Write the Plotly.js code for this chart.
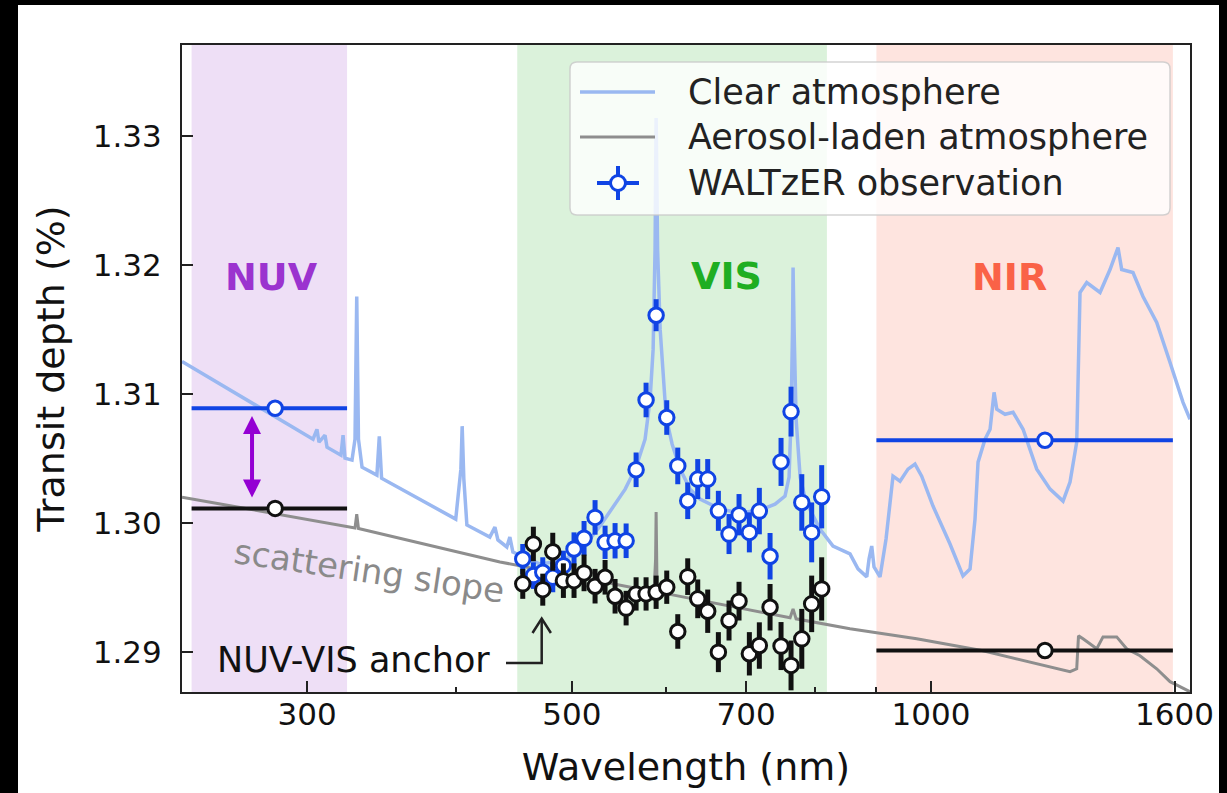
<!DOCTYPE html>
<html><head><meta charset="utf-8">
<script src="https://cdn.plot.ly/plotly-3.0.1.min.js"></script>
<style>
html,body{margin:0;padding:0;background:#000;width:1227px;height:793px;overflow:hidden}
#plot{position:absolute;left:18px;top:5px;width:1201px;height:788px;background:#fff}
</style></head><body><div id="plot"></div>
<script>
const FONT = 'DejaVu Sans, Liberation Sans, sans-serif';

// ---- model spectra (wavelength nm, transit depth %) ----
const clearWave = [235.6,258.5,279.2,303.4,305.7,306.9,310.5,311.7,320.2,321.5,322.7,327.1,329.0,330.1,331.2,333.5,343.2,344.8,346.3,399.6,403.6,404.6,405.9,408.3,426.8,431.0,433.5,441.0,443.6,446.2,470.2,488.7,503.0,517.9,528.0,540.3,554.2,566.0,575.9,581.5,584.9,587.1,588.3,590.0,592.9,599.8,606.8,616.2,628.1,640.3,665.6,691.8,718.9,740.1,754.5,760.4,763.3,765.5,766.3,767.8,770.8,776.8,785.8,807.2,827.7,855.3,868.6,883.4,887.3,891.9,895.9,906.3,916.9,929.3,942.0,956.6,969.6,982.2,1003.9,1037.4,1063.7,1078.3,1088.7,1095.1,1110.0,1120.8,1129.5,1135.4,1153.7,1171.7,1194.5,1226.5,1258.4,1290.3,1307.8,1324.8,1333.3,1350.7,1385.8,1412.8,1434.7,1445.0,1476.8,1505.6,1546.0,1586.3,1626.5,1648.6];
const clearDepth = [1.31255,1.31032,1.30849,1.30652,1.30729,1.30629,1.30683,1.30590,1.30528,1.30683,1.30505,1.30490,1.30652,1.31758,1.30652,1.30435,1.30374,1.30675,1.30350,1.30033,1.30420,1.30753,1.30343,1.29987,1.29894,1.29971,1.29871,1.29817,1.29894,1.29778,1.29685,1.29708,1.29763,1.29879,1.29979,1.30111,1.30265,1.30435,1.30652,1.30961,1.31348,1.32121,1.33142,1.32121,1.31503,1.30822,1.30613,1.30420,1.30265,1.30188,1.30111,1.30080,1.30103,1.30149,1.30211,1.30358,1.30807,1.31503,1.31982,1.31503,1.30807,1.30358,1.30165,1.29956,1.29824,1.29763,1.29647,1.29585,1.29724,1.29824,1.29662,1.29585,1.29879,1.30366,1.30327,1.30420,1.30459,1.30366,1.30134,1.29840,1.29592,1.29647,1.30033,1.30474,1.30652,1.30729,1.31015,1.30884,1.30845,1.30861,1.30729,1.30420,1.30265,1.30172,1.30320,1.30629,1.31789,1.31866,1.31789,1.31967,1.32137,1.31967,1.31944,1.31758,1.31557,1.31247,1.30938,1.30807];

const hazyWave = [235.6,323.7,329.0,330.1,331.2,435.2,581.5,586.0,587.7,588.3,588.8,589.4,761.9,766.3,770.8,827.7,855.3,972.8,1105.7,1307.8,1324.8,1329.4,1341.1,1377.0,1393.8,1431.1,1458.9,1496.9,1546.0,1586.3,1648.6];
const hazyDepth = [1.30203,1.29979,1.29964,1.30072,1.29960,1.29701,1.29476,1.29476,1.29724,1.30087,1.29724,1.29469,1.29268,1.29337,1.29260,1.29206,1.29183,1.29105,1.29012,1.28850,1.28873,1.29128,1.29105,1.29028,1.29120,1.29120,1.29028,1.28974,1.28873,1.28773,1.28695];

// ---- WALTzER VIS spectroscopic bins ----
const visWave = [454.8,464.2,472.7,481.9,491.9,502.1,511.9,522.9,533.1,543.5,555.2,566.0,577.0,588.3,600.5,613.4,625.3,637.5,649.9,663.4,677.2,690.4,704.3,718.0,733.0,748.7,763.3,779.3,794.3,809.8];
const visClear = [1.29724,1.29595,1.29621,1.29582,1.29672,1.29801,1.29884,1.30046,1.29853,1.29865,1.29865,1.30415,1.30956,1.31613,1.30820,1.30445,1.30175,1.30343,1.30343,1.30097,1.29917,1.30067,1.29930,1.30095,1.29745,1.30476,1.30866,1.30162,1.29930,1.30206];
const visClearErr = [0.00116,0.00103,0.00116,0.00116,0.00116,0.00129,0.00134,0.00134,0.00129,0.00137,0.00134,0.00134,0.00134,0.00124,0.00134,0.00142,0.00142,0.00155,0.00155,0.00155,0.00155,0.00160,0.00155,0.00180,0.00180,0.00186,0.00193,0.00219,0.00232,0.00245];
const visHazy = [1.29531,1.29840,1.29486,1.29780,1.29556,1.29556,1.29616,1.29513,1.29582,1.29435,1.29343,1.29453,1.29453,1.29466,1.29505,1.29162,1.29587,1.29415,1.29319,1.29002,1.29247,1.29397,1.28989,1.29053,1.29350,1.29049,1.28899,1.29105,1.29376,1.29492];
const visHazyErr = [0.00116,0.00134,0.00124,0.00147,0.00134,0.00134,0.00142,0.00134,0.00134,0.00134,0.00134,0.00129,0.00129,0.00129,0.00129,0.00134,0.00142,0.00150,0.00168,0.00155,0.00155,0.00150,0.00168,0.00180,0.00180,0.00186,0.00193,0.00232,0.00219,0.00245];

// ---- WALTzER broadband NUV / NIR photometry ----
const bandNames = ['NUV','VIS','NIR'];
const bandLow  = [240, 450, 900];
const bandHigh = [324, 818, 1595];
const photWave = [282, 1246];
const photLow  = [240, 900];
const photHigh = [324, 1595];
const photClear = [1.30892, 1.30644];
const photHazy  = [1.30116, 1.29015];
const photErr   = [0.0003, 0.0002];

// ---- ticks ----
const xTicks = [300, 500, 700, 1000, 1600];
const xMinor = [400, 600, 800, 900];
const yTicks = [1.29, 1.30, 1.31, 1.32, 1.33];

// ---- styling ----
const BLUE = '#1044e4', BLACK = '#111111';
const CLEAR_C = '#9ab8f1', HAZY_C = '#8e8e8e';
const bandFill = ['#eedff6', '#dbf2db', '#fee4df'];
const bandText = ['#9b33cf', '#1fae22', '#fa6247'];

const xRange = [Math.log10(235.6), Math.log10(1648.6)];
const yRange = [1.28693, 1.33707];
// plot-area pixel helpers (plot area: x 182..1190, y 45..692 in page)
const PL = 182, PB = 692, PW = 1008, PH = 647;
const px = p => (p - PL) / PW;
const py = p => (PB - p) / PH;
const L10 = Math.log10;

const MS = 14.5;
const traces = [
  {x: clearWave, y: clearDepth, mode: 'lines', line: {color: CLEAR_C, width: 3.5}, hoverinfo: 'skip'},
  {x: hazyWave, y: hazyDepth, mode: 'lines', line: {color: HAZY_C, width: 3}, hoverinfo: 'skip'},
  {x: visWave, y: visClear, mode: 'markers',
   error_y: {type: 'data', array: visClearErr, color: BLUE, thickness: 5, width: 0},
   marker: {size: MS, color: '#ffffff', line: {color: BLUE, width: 3}}},
  {x: visWave, y: visHazy, mode: 'markers',
   error_y: {type: 'data', array: visHazyErr, color: BLACK, thickness: 5, width: 0},
   marker: {size: MS, color: '#ffffff', line: {color: BLACK, width: 3}}},
  {x: photWave, y: photClear, mode: 'markers',
   error_x: {type: 'data', symmetric: false, array: photHigh.map((h, i) => h - photWave[i]), arrayminus: photLow.map((l, i) => photWave[i] - l), color: BLUE, thickness: 4, width: 0},
   error_y: {type: 'data', array: photErr, color: BLUE, thickness: 4, width: 0},
   marker: {size: MS, color: '#ffffff', line: {color: BLUE, width: 3}}},
  {x: photWave, y: photHazy, mode: 'markers',
   error_x: {type: 'data', symmetric: false, array: photHigh.map((h, i) => h - photWave[i]), arrayminus: photLow.map((l, i) => photWave[i] - l), color: BLACK, thickness: 4, width: 0},
   error_y: {type: 'data', array: photErr, color: BLACK, thickness: 4, width: 0},
   marker: {size: MS, color: '#ffffff', line: {color: BLACK, width: 3}}}
];

const shapes = bandNames.map((b, i) => ({
  type: 'rect', xref: 'x', yref: 'paper', x0: bandLow[i], x1: bandHigh[i], y0: 0, y1: 1,
  fillcolor: bandFill[i], line: {width: 0}, layer: 'below'
}));

// legend box (rounded)
(function () {
  const x0 = px(570), x1 = px(1170), y0 = py(215), y1 = py(62);
  const rx = 7 / PW, ry = 7 / PH;
  shapes.push({type: 'path', xref: 'paper', yref: 'paper', layer: 'above',
    path: `M${x0 + rx},${y1} L${x1 - rx},${y1} Q${x1},${y1} ${x1},${y1 - ry} L${x1},${y0 + ry} Q${x1},${y0} ${x1 - rx},${y0} L${x0 + rx},${y0} Q${x0},${y0} ${x0},${y0 + ry} L${x0},${y1 - ry} Q${x0},${y1} ${x0 + rx},${y1} Z`,
    fillcolor: 'rgba(255,255,255,0.8)', line: {color: 'rgba(200,200,200,0.8)', width: 1.5}});
  shapes.push({type: 'line', xref: 'paper', yref: 'paper', layer: 'above', x0: px(580), x1: px(655), y0: py(92), y1: py(92), line: {color: CLEAR_C, width: 3.5}});
  shapes.push({type: 'line', xref: 'paper', yref: 'paper', layer: 'above', x0: px(580), x1: px(655), y0: py(137), y1: py(137), line: {color: HAZY_C, width: 3}});
  shapes.push({type: 'line', xref: 'paper', yref: 'paper', layer: 'above', x0: px(618), x1: px(618), y0: py(166), y1: py(200), line: {color: BLUE, width: 4}});
  shapes.push({type: 'line', xref: 'paper', yref: 'paper', layer: 'above', x0: px(597), x1: px(639), y0: py(183), y1: py(183), line: {color: BLUE, width: 4}});
  shapes.push({type: 'circle', xref: 'paper', yref: 'paper', layer: 'above', xsizemode: 'pixel', ysizemode: 'pixel',
    xanchor: px(618), yanchor: py(183), x0: -7.5, x1: 7.5, y0: -7.5, y1: 7.5, fillcolor: '#ffffff', line: {color: BLUE, width: 3}});
})();

// NUV-VIS anchor elbow arrow
shapes.push({type: 'path', xref: 'paper', yref: 'paper', layer: 'above',
  path: `M${px(506)},${py(663)} L${px(541.7)},${py(663)} L${px(541.7)},${py(620)}`,
  line: {color: '#222', width: 2.5}});
shapes.push({type: 'path', xref: 'paper', yref: 'paper', layer: 'above',
  path: `M${px(532.5)},${py(633)} L${px(541.7)},${py(618.5)} L${px(550.9)},${py(633)}`,
  line: {color: '#222', width: 2.5}});

const annotations = [
  {x: L10(280.1), y: 1.31911, text: '<b>NUV</b>', showarrow: false, font: {size: 38, color: bandText[0], family: FONT}},
  {x: L10(674.2), y: 1.31915, text: '<b>VIS</b>', showarrow: false, font: {size: 38, color: bandText[1], family: FONT}},
  {x: L10(1162.6), y: 1.31909, text: '<b>NIR</b>', showarrow: false, font: {size: 38, color: bandText[2], family: FONT}},
  {x: L10(338.6), y: 1.29633, text: 'scattering slope', showarrow: false, textangle: 8.5, font: {size: 34, color: '#8a8a8a', family: FONT}},
  {x: L10(327.9), y: 1.28943, text: 'NUV-VIS anchor', showarrow: false, font: {size: 35, color: '#111', family: FONT}},
  {x: L10(269.7), y: 1.30832, ax: L10(269.7), ay: 1.30188, axref: 'x', ayref: 'y', text: '', showarrow: true,
   arrowside: 'end+start', arrowhead: 2, arrowsize: 0.9, arrowwidth: 4, arrowcolor: '#9400d3', standoff: 0, startstandoff: 0},
  {xref: 'paper', yref: 'paper', x: px(686), y: py(92), xanchor: 'left', yanchor: 'middle', text: 'Clear atmosphere', showarrow: false, font: {size: 35, color: '#222', family: FONT}},
  {xref: 'paper', yref: 'paper', x: px(686), y: py(137), xanchor: 'left', yanchor: 'middle', text: 'Aerosol-laden atmosphere', showarrow: false, font: {size: 35, color: '#222', family: FONT}},
  {xref: 'paper', yref: 'paper', x: px(686), y: py(183), xanchor: 'left', yanchor: 'middle', text: 'WALTzER observation', showarrow: false, font: {size: 35, color: '#222', family: FONT}}
];

const layout = {
  width: 1201, height: 788,
  margin: {l: 164, r: 29, t: 40, b: 101, pad: 0},
  paper_bgcolor: '#ffffff', plot_bgcolor: '#ffffff',
  showlegend: false,
  font: {family: FONT, color: '#111'},
  xaxis: {
    type: 'log', range: xRange, autorange: false,
    tickmode: 'array', tickvals: xTicks, ticktext: xTicks.map(String),
    ticks: 'inside', ticklen: 11, tickwidth: 2, tickcolor: '#222',
    showline: true, linecolor: '#222', linewidth: 2, mirror: true,
    showgrid: false, zeroline: false,
    tickfont: {size: 31, family: FONT, color: '#111'},
    ticklabelstandoff: -6,
    minor: {tickmode: 'array', tickvals: xMinor, ticks: 'inside', ticklen: 5, tickwidth: 2, tickcolor: '#222', showgrid: false},
    title: {text: 'Wavelength (nm)', font: {size: 38, family: FONT, color: '#111'}, standoff: 22}
  },
  yaxis: {
    range: yRange, autorange: false,
    tickmode: 'array', tickvals: yTicks, ticktext: yTicks.map(v => v.toFixed(2)),
    ticks: 'inside', ticklen: 11, tickwidth: 2, tickcolor: '#222',
    showline: true, linecolor: '#222', linewidth: 2, mirror: true,
    showgrid: false, zeroline: false,
    tickfont: {size: 31, family: FONT, color: '#111'},
    ticklabelstandoff: 12,
    title: {text: 'Transit depth (%)', font: {size: 38, family: FONT, color: '#111'}, standoff: 16}
  },
  shapes: shapes,
  annotations: annotations
};

Plotly.newPlot('plot', traces, layout, {displayModeBar: false, staticPlot: true});
</script></body></html>
